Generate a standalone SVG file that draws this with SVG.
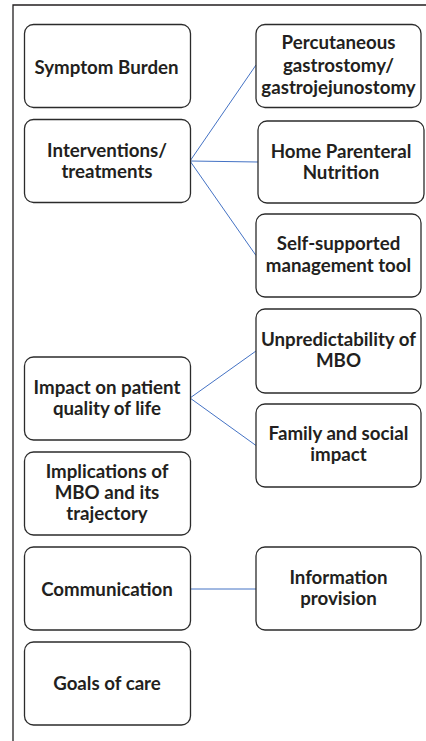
<svg xmlns="http://www.w3.org/2000/svg" width="426" height="741" viewBox="0 0 426 741">
<style>
.box{fill:#fff;stroke:#2b2b2b;stroke-width:1.3}
.t{font-family:Lato,"Open Sans",sans-serif;font-weight:700;font-size:18.7px;fill:#231f20;text-anchor:middle}
.c{stroke:#4472c4;stroke-width:1;fill:none}
.f{stroke:#231f20;stroke-width:1.3;fill:none}
</style>
<rect width="426" height="741" fill="#fff"/>
<g id="frame"><path class="f" d="M426,5 H13 V741"/></g>
<g id="connectors">
<line class="c" x1="190" y1="161" x2="256" y2="65"/>
<line class="c" x1="190" y1="161" x2="258" y2="162"/>
<line class="c" x1="190" y1="161" x2="256" y2="255.5"/>
<line class="c" x1="190" y1="398" x2="256" y2="351"/>
<line class="c" x1="190" y1="398" x2="256" y2="445.5"/>
<line class="c" x1="190" y1="589" x2="256" y2="589"/>
</g>
<g id="symptom"><rect class="box" x="24.5" y="24.5" width="166" height="83" rx="9"/><text class="t" x="106.5" y="74">Symptom Burden</text></g>
<g id="interventions"><rect class="box" x="24.5" y="119.5" width="166" height="83" rx="9"/><text class="t" x="107" y="157">Interventions/</text><text class="t" x="107" y="178">treatments</text></g>
<g id="impact"><rect class="box" x="24.5" y="357" width="166" height="83" rx="9"/><text class="t" x="107" y="393.5">Impact on patient</text><text class="t" x="107" y="415">quality of life</text></g>
<g id="implications"><rect class="box" x="24.5" y="452" width="166" height="83" rx="9"/><text class="t" x="107" y="477.5">Implications of</text><text class="t" x="107" y="498.5">MBO and its</text><text class="t" x="107" y="520">trajectory</text></g>
<g id="communication"><rect class="box" x="24.5" y="547" width="166" height="83" rx="9"/><text class="t" x="107" y="596">Communication</text></g>
<g id="goals"><rect class="box" x="24.5" y="642" width="166" height="83" rx="9"/><text class="t" x="107" y="690">Goals of care</text></g>
<g id="percutaneous"><rect class="box" x="256" y="24.5" width="165" height="83" rx="9"/><text class="t" x="338.5" y="49">Percutaneous</text><text class="t" x="338.5" y="71.5">gastrostomy/</text><text class="t" x="338.5" y="93.5">gastrojejunostomy</text></g>
<g id="hpn"><rect class="box" x="258" y="121" width="166" height="82" rx="9"/><text class="t" x="341" y="157.5">Home Parenteral</text><text class="t" x="341" y="179">Nutrition</text></g>
<g id="selfsupported"><rect class="box" x="256" y="214" width="165" height="83" rx="9"/><text class="t" x="338.5" y="250">Self-supported</text><text class="t" x="338.5" y="271.5">management tool</text></g>
<g id="unpredictability"><rect class="box" x="256" y="309" width="165" height="84" rx="9"/><text class="t" x="338.5" y="346">Unpredictability of</text><text class="t" x="338.5" y="367">MBO</text></g>
<g id="family"><rect class="box" x="256" y="404" width="165" height="83" rx="9"/><text class="t" x="338.5" y="440">Family and social</text><text class="t" x="338.5" y="461">impact</text></g>
<g id="information"><rect class="box" x="256" y="547" width="165" height="83" rx="9"/><text class="t" x="338.5" y="583.5">Information</text><text class="t" x="338.5" y="605">provision</text></g>
</svg>
